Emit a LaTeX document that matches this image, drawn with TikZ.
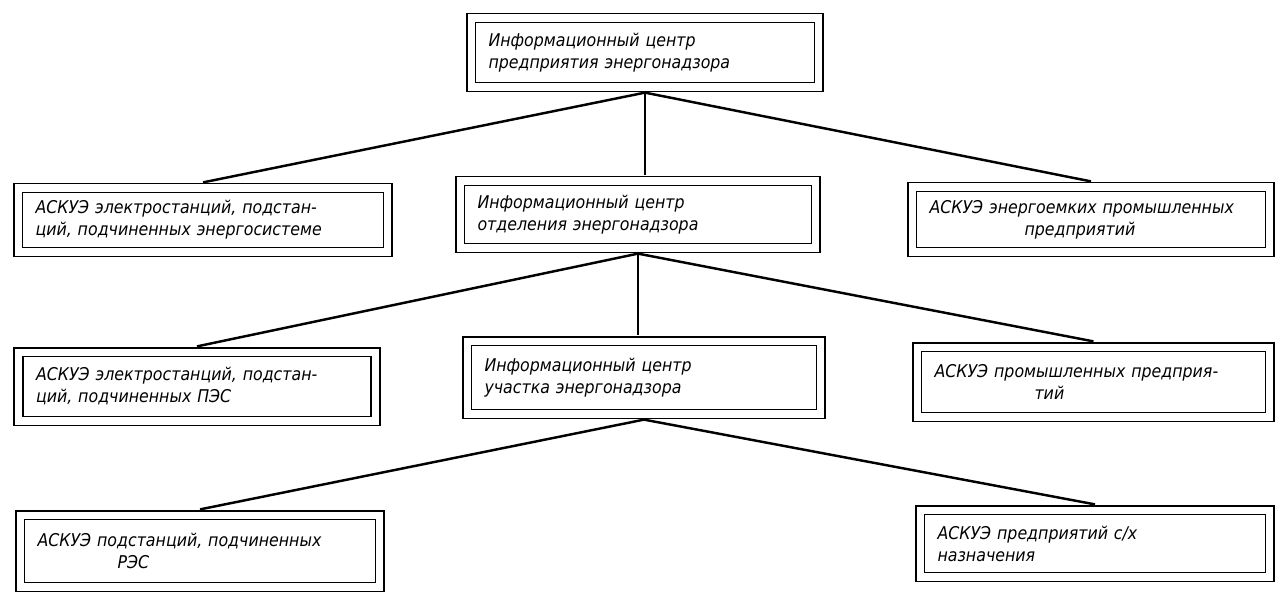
\documentclass[tikz,border=0pt]{standalone}
\usepackage{fontspec}
\setmainfont[FakeStretch=0.9]{DejaVu Sans}
\begin{document}
\begin{tikzpicture}[x=0.02cm, y=-0.02cm,
    infobox/.style={draw, rectangle, line width=1.1pt, double, double distance=4pt,
        outer sep=3.2pt, inner xsep=0.35cm, align=left, font=\itshape\fontsize{10}{12.5}\selectfont},
    link/.style={line width=1.4pt}]
        \useasboundingbox (0,0) rectangle (1279,596);
        
        % Top level
        \node[infobox, text width=6.26cm, minimum height=1.38cm] (center) at (645,52.5) {Информационный центр\\предприятия энергонадзора};
        
        % Second level
        \node[infobox, text width=6.7cm, minimum height=1.28cm] (plants) at (203,220) {АСКУЭ электростанций, подстан-\\ций, подчиненных энергосистеме};
        \node[infobox, text width=6.42cm, minimum height=1.34cm] (branch) at (638,214.5) {Информационный центр\\отделения энергонадзора};
        \node[infobox, text width=6.46cm, minimum height=1.3cm] (heavy) at (1091,219.5) {АСКУЭ энергоемких промышленных\\\hspace*{1.9cm}предприятий};
        
        % Third level
        \node[infobox, text width=6.44cm, minimum height=1.38cm] (pes) at (197,386.5) {АСКУЭ электростанций, подстан-\\ций, подчиненных ПЭС};
        \node[infobox, text width=6.38cm, minimum height=1.46cm] (section) at (644,377.5) {Информационный центр\\участка энергонадзора};
        \node[infobox, text width=6.36cm, minimum height=1.4cm] (industry) at (1093.5,382) {АСКУЭ промышленных предприя-\\\hspace*{2cm}тий};
        
        % Fourth level
        \node[infobox, text width=6.5cm, minimum height=1.44cm] (res) at (200,551) {АСКУЭ подстанций, подчиненных\\\hspace*{1.6cm}РЭС};
        \node[infobox, text width=6.3cm, minimum height=1.34cm] (farm) at (1095,543.5) {АСКУЭ предприятий с/х\\назначения};
        
        % Connectors
        \draw[link] (center.south) -- (plants.north);
        \draw[link] (center.south) -- (center.south |- branch.north);
        \draw[link] (center.south) -- (heavy.north);
        \draw[link] (branch.south) -- (pes.north);
        \draw[link] (branch.south) -- (branch.south |- section.north);
        \draw[link] (branch.south) -- (industry.north);
        \draw[link] (section.south) -- (res.north);
        \draw[link] (section.south) -- (farm.north);
    \end{tikzpicture}
\end{document}
